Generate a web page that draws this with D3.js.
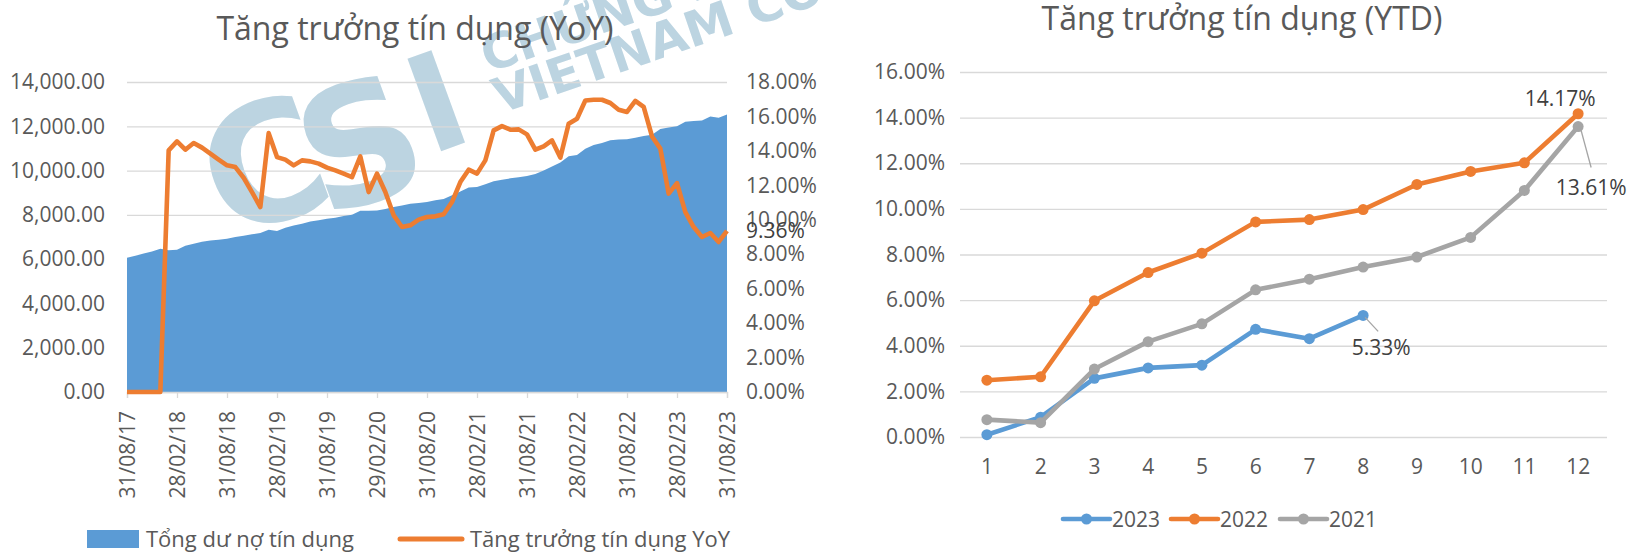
<!DOCTYPE html>
<html>
<head>
<meta charset="utf-8">
<script src="https://cdn.jsdelivr.net/npm/d3@7"></script>
<style>
  body { margin: 0; background: #fff; }
  svg { display: block; font-family: "Open Sans", "Noto Sans", sans-serif; }
  .tick text { fill: #595959; }
</style>
</head>
<body>
<svg id="chart"></svg>
<script>
// ---------------- data ----------------
// left chart: monthly, 31/08/17 .. 31/08/23
const xTickLabels = ['31/08/17', '28/02/18', '31/08/18', '28/02/19', '31/08/19', '29/02/20',
  '31/08/20', '28/02/21', '31/08/21', '28/02/22', '31/08/22', '28/02/23', '31/08/23'];

// Tổng dư nợ tín dụng (nghìn tỷ)
const totalCredit = [
  6060, 6150, 6250, 6350, 6470, 6400, 6420, 6600, 6700, 6780, 6840, 6880,
  6920, 7000, 7060, 7120, 7180, 7330, 7270, 7420, 7520, 7600, 7700, 7760,
  7820, 7870, 7950, 8000, 8180, 8180, 8200, 8260, 8360, 8420, 8500, 8540,
  8580, 8660, 8720, 8880, 9050, 9230, 9260, 9380, 9520, 9580, 9650, 9700,
  9760, 9850, 10000, 10180, 10370, 10650, 10700, 10990, 11150, 11250, 11370, 11400,
  11420, 11480, 11560, 11620, 11880, 11950, 12000, 12200, 12240, 12260, 12440, 12380,
  12530
];

// Tăng trưởng tín dụng YoY (%)
const yoyGrowth = [
  0, 0, 0, 0, 0, 14.03, 14.55, 14.07, 14.46, 14.19, 13.84, 13.49,
  13.16, 13.06, 12.44, 11.61, 10.74, 15.03, 13.64, 13.49, 13.16, 13.45, 13.39, 13.26,
  13.03, 12.87, 12.68, 12.48, 13.68, 11.61, 12.68, 11.61, 10.26, 9.58, 9.68, 10.01,
  10.16, 10.20, 10.32, 11.03, 12.19, 12.91, 12.68, 13.45, 15.19, 15.44, 15.23, 15.25,
  14.96, 14.07, 14.26, 14.61, 13.61, 15.58, 15.87, 16.93, 16.97, 16.97, 16.78, 16.39,
  16.26, 16.90, 16.55, 14.84, 14.13, 11.52, 12.13, 10.45, 9.58, 9.00, 9.23, 8.71,
  9.36
];

// right chart: YTD growth by month (%)
const ytdMonths = ['1', '2', '3', '4', '5', '6', '7', '8', '9', '10', '11', '12'];
const ytd2023 = [0.10, 0.87, 2.57, 3.03, 3.15, 4.72, 4.31, 5.33];
const ytd2022 = [2.49, 2.64, 5.97, 7.21, 8.06, 9.43, 9.53, 9.97, 11.07, 11.64, 12.02, 14.17];
const ytd2021 = [0.76, 0.63, 2.98, 4.18, 4.96, 6.45, 6.92, 7.45, 7.89, 8.75, 10.81, 13.61];

const blue = '#5B9BD5', orange = '#ED7D31', gray = '#A5A5A5';
const textColor = '#595959', labelColor = '#404040', gridColor = '#D9D9D9';

const width = 1637, height = 552;
const svg = d3.select('#chart').attr('width', width).attr('height', height);
svg.append('rect').attr('width', width).attr('height', height).attr('fill', '#fff');

//================ watermark ================
svg.append('clipPath').attr('id', 'wmclip')
  .append('rect').attr('x', 0).attr('y', 0).attr('width', 835).attr('height', 400);
const wm = svg.append('g').attr('clip-path', 'url(#wmclip)')
  .attr('fill', '#BCD4E1')
  .style('font-family', '"DejaVu Sans", sans-serif')
  .style('font-weight', 'bold');
// logo letters, placed one by one
[['C', 284, 220, 165], ['S', 380, 199, 165], ['I', 453, 147, 135]].forEach(([ch, bx, by, fs]) => {
  wm.append('text')
    .attr('transform', `translate(${bx},${by}) rotate(-20)`)
    .attr('text-anchor', 'middle')
    .style('font-size', fs + 'px')
    .text(ch);
});
wm.append('text')
  .attr('transform', 'translate(488,73) rotate(-19)')
  .style('font-size', '49px')
  .text('CHỨNG KHOÁN KIẾN THIẾT');
wm.append('text')
  .attr('transform', 'translate(500,114) rotate(-19)')
  .style('font-size', '49px')
  .text('VIETNAM CONSTRUCTION');

//================ left chart (YoY) ================
const L = { left: 127, right: 727, top: 82, bottom: 392 };

const x = d3.scaleLinear().domain([0, yoyGrowth.length - 1]).range([L.left, L.right]);
const yL = d3.scaleLinear().domain([0, 14000]).range([L.bottom, L.top]);
const yR = d3.scaleLinear().domain([0, 0.18]).range([L.bottom, L.top]);

svg.append('text')
  .attr('x', 415).attr('y', 40)
  .attr('text-anchor', 'middle')
  .attr('fill', textColor)
  .style('font-size', '32px')
  .text('Tăng trưởng tín dụng (YoY)');

// gridlines + left labels
const gL = svg.append('g')
  .attr('transform', `translate(${L.left},0)`)
  .call(d3.axisLeft(yL)
    .tickValues(d3.range(0, 14001, 2000))
    .tickFormat(d3.format(',.2f'))
    .tickSize(-(L.right - L.left))
    .tickPadding(22));
gL.select('.domain').remove();
gL.selectAll('.tick line').attr('stroke', gridColor).attr('stroke-width', 1.3);
gL.selectAll('.tick text').style('font-size', '21px').style('font-family', '"Open Sans", sans-serif');

// area
svg.append('path')
  .datum(totalCredit)
  .attr('fill', blue)
  .attr('d', d3.area()
    .x((d, i) => x(i))
    .y0(yL(0))
    .y1(d => yL(d)));

// bottom axis
const gB = svg.append('g')
  .attr('transform', `translate(0,${L.bottom})`)
  .call(d3.axisBottom(x)
    .tickValues(d3.range(0, yoyGrowth.length, 6))
    .tickFormat((d, i) => xTickLabels[i])
    .tickSizeOuter(0)
    .tickSize(6));
gB.select('.domain').attr('stroke', gridColor).attr('stroke-width', 1.3);
gB.selectAll('.tick line').attr('stroke', gridColor).attr('stroke-width', 1.3);
gB.selectAll('.tick text')
  .style('font-size', '21px')
  .style('font-family', '"Open Sans", sans-serif')
  .attr('text-anchor', 'end')
  .attr('transform', 'rotate(-90)')
  .attr('x', -19)
  .attr('y', 0)
  .attr('dy', '0.36em');

// right labels
const gR = svg.append('g')
  .attr('transform', `translate(${L.right},0)`)
  .call(d3.axisRight(yR)
    .tickValues(d3.range(0, 0.1801, 0.02))
    .tickFormat(d3.format('.2%'))
    .tickSize(0)
    .tickPadding(19));
gR.select('.domain').remove();
gR.selectAll('.tick text').style('font-size', '21px').style('font-family', '"Open Sans", sans-serif');

// YoY line
svg.append('path')
  .datum(yoyGrowth)
  .attr('fill', 'none')
  .attr('stroke', orange)
  .attr('stroke-width', 4.6)
  .attr('stroke-linejoin', 'round')
  .attr('d', d3.line()
    .x((d, i) => x(i))
    .y(d => yR(d / 100)));

// last value label
const lastI = yoyGrowth.length - 1;
svg.append('text')
  .attr('x', x(lastI) + 19)
  .attr('y', yR(yoyGrowth[lastI] / 100))
  .attr('dy', '0.36em')
  .attr('fill', labelColor)
  .style('font-size', '21px')
  .text(d3.format('.2f')(yoyGrowth[lastI]) + '%');

// left legend
const legL = svg.append('g').style('font-size', '22px').attr('fill', textColor);
legL.append('rect').attr('x', 87).attr('y', 530).attr('width', 52).attr('height', 18).attr('fill', blue);
legL.append('text').attr('x', 146).attr('y', 539).attr('dy', '0.36em').text('Tổng dư nợ tín dụng');
legL.append('line').attr('x1', 400).attr('x2', 462).attr('y1', 539).attr('y2', 539)
  .attr('stroke', orange).attr('stroke-width', 5).attr('stroke-linecap', 'round');
legL.append('text').attr('x', 470).attr('y', 539).attr('dy', '0.36em').text('Tăng trưởng tín dụng YoY');

//================ right chart (YTD) ================
const R = { left: 960, right: 1605, top: 72, bottom: 437 };
const xb = d3.scaleBand().domain(ytdMonths).range([R.left, R.right]);
const yY = d3.scaleLinear().domain([0, 0.16]).range([R.bottom, R.top]);
const cx = m => xb(m) + xb.bandwidth() / 2;

svg.append('text')
  .attr('x', 1242).attr('y', 30)
  .attr('text-anchor', 'middle')
  .attr('fill', textColor)
  .style('font-size', '32px')
  .text('Tăng trưởng tín dụng (YTD)');

const gY = svg.append('g')
  .attr('transform', `translate(${R.left},0)`)
  .call(d3.axisLeft(yY)
    .tickValues(d3.range(0, 0.1601, 0.02))
    .tickFormat(d3.format('.2%'))
    .tickSize(-(R.right - R.left + 2))
    .tickPadding(15));
gY.select('.domain').remove();
gY.selectAll('.tick line').attr('stroke', gridColor).attr('stroke-width', 1.3);
gY.selectAll('.tick text').style('font-size', '21px').style('font-family', '"Open Sans", sans-serif');

const gX = svg.append('g')
  .attr('transform', `translate(0,${R.bottom})`)
  .call(d3.axisBottom(xb).tickSize(0).tickPadding(22));
gX.select('.domain').remove();
gX.selectAll('.tick text').style('font-size', '21px').style('font-family', '"Open Sans", sans-serif');

const series = [
  { name: '2023', color: blue, values: ytd2023 },
  { name: '2022', color: orange, values: ytd2022 },
  { name: '2021', color: gray, values: ytd2021 }
];

const ytdLine = d3.line()
  .x((d, i) => cx(ytdMonths[i]))
  .y(d => yY(d / 100));

series.forEach(s => {
  const g = svg.append('g');
  g.append('path')
    .datum(s.values)
    .attr('fill', 'none')
    .attr('stroke', s.color)
    .attr('stroke-width', 4.6)
    .attr('stroke-linejoin', 'round')
    .attr('d', ytdLine);
  g.selectAll('circle')
    .data(s.values)
    .join('circle')
    .attr('cx', (d, i) => cx(ytdMonths[i]))
    .attr('cy', d => yY(d / 100))
    .attr('r', 5.5)
    .attr('fill', s.color);
});

// data labels
const fmtPct = v => d3.format('.2f')(v) + '%';
const n23 = ytd2023.length - 1, n22 = ytd2022.length - 1, n21 = ytd2021.length - 1;
const labels = svg.append('g').style('font-size', '21px').attr('fill', labelColor);

labels.append('text')
  .attr('x', cx(ytdMonths[n22]) - 18)
  .attr('y', yY(ytd2022[n22] / 100) - 8)
  .attr('text-anchor', 'middle')
  .text(fmtPct(ytd2022[n22]));

labels.append('line')
  .attr('x1', cx(ytdMonths[n21]) + 3).attr('y1', yY(ytd2021[n21] / 100) + 4)
  .attr('x2', cx(ytdMonths[n21]) + 13).attr('y2', yY(ytd2021[n21] / 100) + 41)
  .attr('stroke', gray).attr('stroke-width', 1.3);
labels.append('text')
  .attr('x', cx(ytdMonths[n21]) + 13)
  .attr('y', yY(ytd2021[n21] / 100) + 68)
  .attr('text-anchor', 'middle')
  .text(fmtPct(ytd2021[n21]));

labels.append('line')
  .attr('x1', cx(ytdMonths[n23]) + 2).attr('y1', yY(ytd2023[n23] / 100) + 2)
  .attr('x2', cx(ytdMonths[n23]) + 15).attr('y2', yY(ytd2023[n23] / 100) + 16)
  .attr('stroke', gray).attr('stroke-width', 1.3);
labels.append('text')
  .attr('x', cx(ytdMonths[n23]) + 18)
  .attr('y', yY(ytd2023[n23] / 100) + 40)
  .attr('text-anchor', 'middle')
  .text(fmtPct(ytd2023[n23]));

// right legend
const legR = svg.append('g').style('font-size', '21px').attr('fill', textColor);
const legX = [1063, 1171, 1280];
series.forEach((s, i) => {
  const x0 = legX[i];
  legR.append('line').attr('x1', x0).attr('x2', x0 + 47).attr('y1', 519).attr('y2', 519)
    .attr('stroke', s.color).attr('stroke-width', 4.6).attr('stroke-linecap', 'round');
  legR.append('circle').attr('cx', x0 + 23.5).attr('cy', 519).attr('r', 5.5).attr('fill', s.color);
  legR.append('text').attr('x', x0 + 49).attr('y', 519).attr('dy', '0.36em').text(s.name);
});
</script>
</body>
</html>
